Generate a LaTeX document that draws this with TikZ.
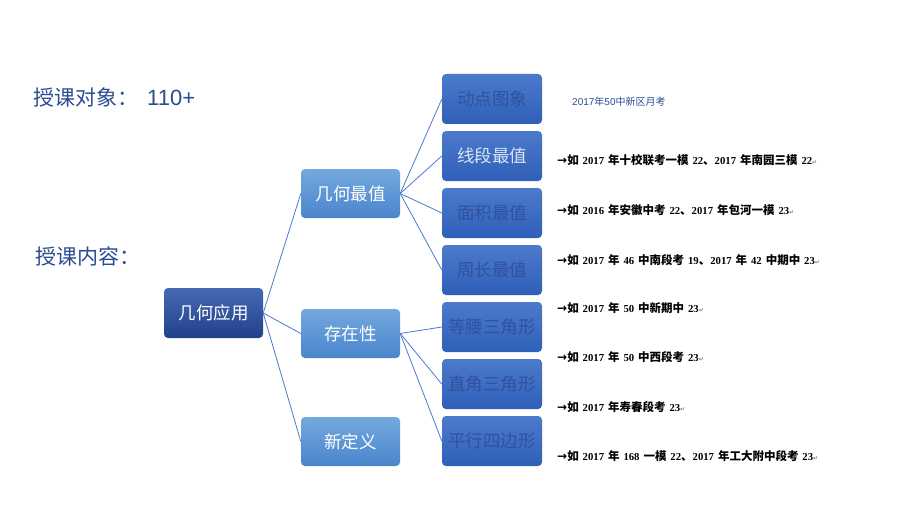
\documentclass[tikz,border=0pt]{standalone}
\usepackage{fontspec}
\setmainfont{Liberation Sans}
\newfontfamily\cjk{Noto Sans CJK SC}
\newfontfamily\cjkn[WordSpace=1.5]{Noto Sans CJK SC}
\newfontfamily\tnr{Liberation Serif}
\newfontfamily\dvs{DejaVu Sans}
\definecolor{titleblue}{HTML}{2B4C93}
\definecolor{rootTop}{HTML}{4668B2}
\definecolor{rootBot}{HTML}{22418C}
\definecolor{midTop}{HTML}{74A8DE}
\definecolor{midBot}{HTML}{4A86CD}
\definecolor{leafTop}{HTML}{4C7ACB}
\definecolor{leafBot}{HTML}{2F5FB8}
\definecolor{leafText}{HTML}{30529F}
\definecolor{linkblue}{HTML}{4A7AD0}
\newcommand\nm[1]{{\tnr\bfseries\fontsize{10.7}{11}\selectfont #1}}
\newcommand\pmark{{\dvs\fontsize{6}{6}\selectfont\color{gray}↵}}
\newcommand\arr{{\dvs\bfseries\fontsize{12}{12}\selectfont →}}
\begin{document}
\begin{tikzpicture}[x=1pt,y=-1pt,
  rootbox/.style={rounded corners=4pt, top color=rootTop, bottom color=rootBot, draw=none,
    minimum width=99pt, minimum height=50pt, inner sep=0pt, text=white,
    font=\cjk\fontsize{17.5}{18}\selectfont},
  midbox/.style={rounded corners=4pt, top color=midTop, bottom color=midBot, draw=none,
    minimum width=99pt, minimum height=49pt, inner sep=0pt, text=white,
    font=\cjk\fontsize{17.5}{18}\selectfont},
  leafbox/.style={rounded corners=4pt, top color=leafTop, bottom color=leafBot, draw=none,
    minimum width=100pt, minimum height=50pt, inner sep=0pt, text=leafText,
    font=\cjk\fontsize{17.5}{18}\selectfont},
  link/.style={draw=linkblue, line width=0.8pt},
  note/.style={anchor=west, inner sep=0pt, font=\cjkn\bfseries\fontsize{11.5}{12}\selectfont, text=black},
  title/.style={anchor=west, inner sep=0pt, text=titleblue, font=\cjk\fontsize{21}{22}\selectfont}
]
\useasboundingbox (0,0) rectangle (920,516);
\fill[white] (0,0) rectangle (920,516);

% titles
\node[title] (t1) at (33,97) {授课对象：\hspace{9pt}{\fontspec{Liberation Sans}\fontsize{22}{22}\selectfont 110+}};
\node[title] (t2) at (35,256) {授课内容：};

% root
\node[rootbox] (root) at (213.5,313) {几何应用};

% level 2
\node[midbox] (m1) at (350.5,193.5) {几何最值};
\node[midbox] (m2) at (350.5,333.5) {存在性};
\node[midbox] (m3) at (350.5,441.5) {新定义};

% level 3
\node[leafbox] (a1) at (492,99) {动点图象};
\node[leafbox, text=white!80!leafTop] (a2) at (492,156) {线段最值};
\node[leafbox] (a3) at (492,213) {面积最值};
\node[leafbox] (a4) at (492,270) {周长最值};
\node[leafbox] (b1) at (492,327) {等腰三角形};
\node[leafbox] (b2) at (492,384) {直角三角形};
\node[leafbox] (b3) at (492,441) {平行四边形};

% connectors
\draw[link] (root.east) -- (m1.west);
\draw[link] (root.east) -- (m2.west);
\draw[link] (root.east) -- (m3.west);
\foreach \n in {a1,a2,a3,a4} \draw[link] (m1.east) -- (\n.west);
\foreach \n in {b1,b2,b3} \draw[link] (m2.east) -- (\n.west);

% notes
\node[anchor=west, inner sep=0pt, text=titleblue, font=\fontspec{Liberation Sans}\fontsize{10}{10}\selectfont] (n0) at (572,102) {2017{\cjk 年}50{\cjk 中新区月考}};
\node[note] (n1) at (557,160) {\arr 如 \nm{2017} 年十校联考一模 \nm{22}、\nm{2017} 年南园三模 \nm{22}\pmark};
\node[note] (n2) at (557,210) {\arr 如 \nm{2016} 年安徽中考 \nm{22}、\nm{2017} 年包河一模 \nm{23}\pmark};
\node[note] (n3) at (557,260) {\arr 如 \nm{2017} 年 \nm{46} 中南段考 \nm{19}、\nm{2017} 年 \nm{42} 中期中 \nm{23}\pmark};
\node[note] (n4) at (557,308) {\arr 如 \nm{2017} 年 \nm{50} 中新期中 \nm{23}\pmark};
\node[note] (n5) at (557,357) {\arr 如 \nm{2017} 年 \nm{50} 中西段考 \nm{23}\pmark};
\node[note] (n6) at (557,407) {\arr 如 \nm{2017} 年寿春段考 \nm{23}\pmark};
\node[note] (n7) at (557,456) {\arr 如 \nm{2017} 年 \nm{168} 一模 \nm{22}、\nm{2017} 年工大附中段考 \nm{23}\pmark};
\end{tikzpicture}
\end{document}
